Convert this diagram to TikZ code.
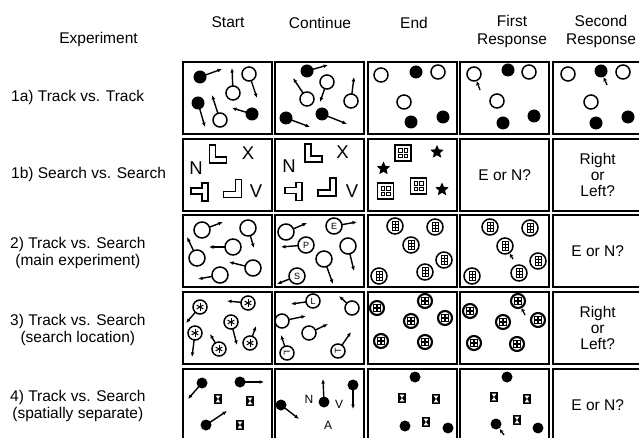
\documentclass[tikz,border=0pt]{standalone}
\usepackage{fontspec}
\setmainfont{Liberation Sans}
\usetikzlibrary{arrows.meta,calc,positioning}

\newcommand{\headfont}{\fontsize{15.5}{18}\selectfont}
\newcommand{\labfont}{\fontsize{15.5}{17}\selectfont}
\newcommand{\askfont}{\fontsize{15.5}{16}\selectfont}
\newcommand{\bigfont}{\fontsize{18.5}{19}\selectfont}
\newcommand{\midfont}{\fontsize{12}{12}\selectfont}
\newcommand{\dotfont}{\fontsize{9}{9}\selectfont}

% stimulus glyphs, local coordinates of a cell (y runs down)
\newcommand{\hollow}[2][7pt]{\draw[ring] (#2) circle[radius=#1];}
\newcommand{\blob}[2][6.5pt]{\fill (#2) circle[radius=#1];}
\newcommand{\ringmove}[3][7pt]{\draw[ring] (#2) circle[radius=#1];
	\draw[mover] ($(#2)!#1!(#3)$) -- (#3);}
\newcommand{\blobmove}[3][6.5pt]{\fill (#2) circle[radius=#1];
	\draw[mover] (#2) -- (#3);}
\newcommand{\pointer}[3][8pt]{\draw[probe] (#3) -- ($(#2)!#1!(#3)$);}
\newcommand{\starring}[2]{\ringmove{#1}{#2}
	\begin{scope}[shift={(#1)}]\foreach \a in {30,90,150}{\draw[line width=1pt] (\a:3.8pt) -- (\a+180:3.8pt);}\end{scope}}
\newcommand{\gridring}[1]{\begin{scope}[shift={(#1)}]
	\draw[line width=1.5pt] (0,0) circle[radius=8pt];
	\draw[line width=0.9pt] (-3,-4.5) rectangle (3,4.5) (0,-4.5) -- (0,4.5) (-3,-1.5) -- (3,-1.5) (-3,1.5) -- (3,1.5);\end{scope}}
\newcommand{\boxring}[1]{\begin{scope}[shift={(#1)}]
	\draw[line width=2.1pt] (0,0) circle[radius=7pt];
	\draw[line width=1.1pt] (-3.5,-3.5) rectangle (3.5,3.5) (0,-3.5) -- (0,3.5) (-3.5,0) -- (3.5,0);\end{scope}}
\newcommand{\quadicon}[1]{\begin{scope}[shift={(#1)}]
	\draw[line width=1.4pt] (-8,-8) rectangle (8,8);
	\foreach \u in {-4.5,1}{\foreach \v in {-4.5,1}{\draw[line width=0.9pt] (\u,\v) rectangle ++(3.5,3.5);}}\end{scope}}
\newcommand{\starmark}[1]{\fill[shift={(#1)}] (90:7pt) -- (126:3.3pt) -- (162:7pt) -- (198:3.3pt) -- (234:7pt)
	-- (270:3.3pt) -- (306:7pt) -- (342:3.3pt) -- (18:7pt) -- (54:3.3pt) -- cycle;}
\newcommand{\hourglass}[1]{\begin{scope}[shift={(#1)}]
	\fill (-4,-5) rectangle (4,5);
	\fill[white] (-2.3,-3.3) -- (2.3,-3.3) -- (0,0) -- cycle (-2.3,3.3) -- (2.3,3.3) -- (0,0) -- cycle;\end{scope}}
\newcommand{\ellshape}[1]{\draw[outline,shift={(#1)}] (0,0) -- (6,0) -- (6,12) -- (17,12) -- (17,18) -- (0,18) -- cycle;}
\newcommand{\teeshape}[1]{\draw[outline,shift={(#1)}] (11,0) -- (17,0) -- (17,18) -- (11,18) -- (11,11) -- (0,11) -- (0,5) -- (11,5) -- cycle;}
\newcommand{\jayshape}[1]{\draw[outline,shift={(#1)}] (12,0) -- (18,0) -- (18,18) -- (0,18) -- (0,12) -- (12,12) -- cycle;}

\begin{document}
\begin{tikzpicture}[x=1pt,y=-1pt,
		cellbox/.style={draw,line width=2.4pt,minimum width=89pt,minimum height=72pt,anchor=north west,inner sep=0pt},
		head/.style={font=\headfont,align=center,inner sep=0pt},
		rowlab/.style={font=\labfont,align=center,anchor=west,inner sep=0pt},
		ask/.style={font=\askfont,align=center,inner sep=0pt},
		ring/.style={line width=1.5pt},
		mover/.style={line width=1.4pt,-{Latex[length=4.5pt,width=3.8pt]}},
		probe/.style={line width=1.3pt,-{Stealth[length=4pt,width=4pt]}},
		outline/.style={line width=1.4pt,line join=miter}]
	\useasboundingbox (0,0) rectangle (639,438);
	\clip (0,0) rectangle (639,438);

	\foreach \rw/\y in {1/61,2/138,3/214,4/291,5/368}
		\foreach \cl/\x in {1/182,2/274,3/367,4/459,5/552}
			\node[cellbox] (c\rw\cl) at (\x,\y) {};

	\node[head] (hexp)   at (98.5,39) {Experiment};
	\node[head] (hstart) at (228,22.5) {Start};
	\node[head] (hcont)  at (320,22.5) {Continue};
	\node[head] (hend)   at (414,22.5) {End};
	\node[head] (hfirst) at (512,31) {First\\Response};
	\node[head] (hsec)   at (601,31) {Second\\Response};

	\node[rowlab] (e1a) at (11,97)  {1a) Track vs. Track};
	\node[rowlab] (e1b) at (11,174) {1b) Search vs. Search};
	\node[rowlab] (e2)  at (10,253) {2) Track vs. Search\\(main experiment)};
	\node[rowlab] (e3)  at (10,330) {3) Track vs. Search\\(search location)};
	\node[rowlab] (e4)  at (10,406) {4) Track vs. Search\\(spatially separate)};

	\node[ask] (q24) at (c24) {E or N?};
	\node[ask] (q25) at (c25) {Right\\or\\Left?};
	\node[ask] (q35) at (c35) {E or N?};
	\node[ask] (q45) at (c45) {Right\\or\\Left?};
	\node[ask] (q55) at (c55) {E or N?};

	% 1a
	\begin{scope}[shift={(c11.north west)}]
		\blobmove{18,16}{40,8} \ringmove{67,13}{75,37} \ringmove{51,32}{50,7}
		\blobmove{16,42}{23,66} \ringmove{38,59}{30,34} \blobmove{70,53}{50,47}
	\end{scope}
	\begin{scope}[shift={(c12.north west)}]
		\blobmove{33,10}{54,4} \ringmove{53,21}{46,41} \ringmove{33,38}{19,17}
		\ringmove{77,40}{80,16} \blobmove{12,57}{36,66} \blobmove{48,53}{73,63}
	\end{scope}
	\begin{scope}[shift={(c13.north west)}]
		\hollow{14,14} \blob{49,11} \hollow{71,11} \hollow{37,41} \blob{44,61} \blob{76,56}
	\end{scope}
	\begin{scope}[shift={(c14.north west)}]
		\hollow{15,13} \pointer{15,13}{21,29} \blob{49,9} \hollow{70,11} \hollow{38,40} \blob{44,62} \blob{75,55}
	\end{scope}
	\begin{scope}[shift={(c15.north west)}]
		\hollow{16,13} \blob{49,10} \pointer[7pt]{49,10}{55,24} \hollow{71,11} \hollow{39,41} \blob{44,62} \blob{76,56}
	\end{scope}

	% 1b
	\begin{scope}[shift={(c21.north west)}]
		\node[font=\bigfont,inner sep=0pt] (n21) at (14,30) {N};
		\node[font=\bigfont,inner sep=0pt] (x21) at (66,15) {X};
		\node[font=\bigfont,inner sep=0pt] (v21) at (74,53) {V};
		\ellshape{27.5,7} \teeshape{9,45} \jayshape{41.5,41.5}
	\end{scope}
	\begin{scope}[shift={(c22.north west)}]
		\node[font=\bigfont,inner sep=0pt] (n22) at (15,28) {N};
		\node[font=\bigfont,inner sep=0pt] (x22) at (68.5,14.5) {X};
		\node[font=\bigfont,inner sep=0pt] (v22) at (78,53) {V};
		\ellshape{31,6} \teeshape{11,44.5} \jayshape{44,40}
	\end{scope}
	\begin{scope}[shift={(c23.north west)}]
		\quadicon{36,15} \quadicon{18.5,53} \quadicon{51.5,48}
		\starmark{70,14} \starmark{16.5,30.5} \starmark{75,51.5}
	\end{scope}

	% 2
	\begin{scope}[shift={(c31.north west)}]
		\ringmove[8pt]{20,16}{41,8} \ringmove[8pt]{66,14}{72,34} \ringmove[8pt]{51,33}{27,33}
		\ringmove[8pt]{15,44}{5,23} \ringmove[8pt]{71,54}{47,48} \ringmove[8pt]{38,61}{16,65}
	\end{scope}
	\begin{scope}[shift={(c32.north west)}]
		\ringmove[8pt]{12,18}{33,9} \ringmove[8pt]{60,12}{83,8} \ringmove[8pt]{32,31}{7,33}
		\ringmove[8pt]{74,32}{80,57} \ringmove[8pt]{50,45}{59,70} \ringmove[8pt]{23,62}{3,70}
		\node[font=\dotfont,inner sep=0pt] (lE) at (60,12) {E};
		\node[font=\dotfont,inner sep=0pt] (lP) at (32,31) {P};
		\node[font=\dotfont,inner sep=0pt] (lS) at (23,62) {S};
	\end{scope}
	\begin{scope}[shift={(c33.north west)}]
		\gridring{28,12} \gridring{68,13} \gridring{44,31} \gridring{77,46} \gridring{58,58} \gridring{12,62}
	\end{scope}
	\begin{scope}[shift={(c34.north west)}]
		\gridring{31,13} \gridring{71,14} \gridring{46,32} \pointer[9pt]{46,32}{54,45}
		\gridring{79,47} \gridring{60,59} \gridring{13,62}
	\end{scope}

	% 3
	\begin{scope}[shift={(c41.north west)}]
		\starring{18,16}{4,32} \starring{66,12}{45,10} \starring{49,31}{55,54}
		\starring{13,42}{10,66} \starring{37,58}{28,43} \starring{68,52}{74,35}
	\end{scope}
	\begin{scope}[shift={(c42.north west)}]
		\ringmove{39,10}{17,13} \ringmove{78,17}{65,5} \ringmove{8,30}{32,25}
		\ringmove{35,42}{54,33} \ringmove{13,62}{7,44} \ringmove{64,60}{77,41}
		\node[font=\dotfont,inner sep=0pt] (lL) at (39,10) {L};
		\node[font=\dotfont,inner sep=0pt,rotate=-90] (lG) at (13,62) {L};
		\node[font=\dotfont,inner sep=0pt,rotate=90] (lT) at (64,60) {T};
	\end{scope}
	\begin{scope}[shift={(c43.north west)}]
		\boxring{10,17} \boxring{58,10} \boxring{44,30} \boxring{78,27} \boxring{14,50} \boxring{58,51}
	\end{scope}
	\begin{scope}[shift={(c44.north west)}]
		\boxring{11,20} \boxring{59,10} \pointer{59,10}{66,24} \boxring{44,31} \boxring{79,29} \boxring{15,52} \boxring{58,53}
	\end{scope}

	% 4
	\begin{scope}[shift={(c51.north west)}]
		\blobmove[5.5pt]{20,15}{6,31} \blobmove[5.5pt]{58,14}{82,14} \blobmove[5.5pt]{24,57}{45,43}
		\hourglass{36,31} \hourglass{68,33} \hourglass{58,57}
	\end{scope}
	\begin{scope}[shift={(c52.north west)}]
		\blobmove[5.5pt]{7,37}{25,51} \blobmove[5.5pt]{50,34}{49,11} \blobmove[5.5pt]{79,17}{79,41}
		\node[font=\midfont,inner sep=0pt] (n52) at (35,31) {N};
		\node[font=\midfont,inner sep=0pt] (v52) at (65,36) {V};
		\node[font=\midfont,inner sep=0pt] (a52) at (54,57) {A};
	\end{scope}
	\begin{scope}[shift={(c53.north west)}]
		\blob[5.5pt]{48,9} \blob[5.5pt]{38,58} \blob[5.5pt]{81,60}
		\hourglass{35,30} \hourglass{69,31} \hourglass{59,54}
	\end{scope}
	\begin{scope}[shift={(c54.north west)}]
		\blob[5.5pt]{48,9} \blob[5.5pt]{37,56} \pointer[6.5pt]{37,56}{45,67} \blob[5.5pt]{79,60}
		\hourglass{35,29} \hourglass{68,31} \hourglass{58,52}
	\end{scope}
\end{tikzpicture}
\end{document}
